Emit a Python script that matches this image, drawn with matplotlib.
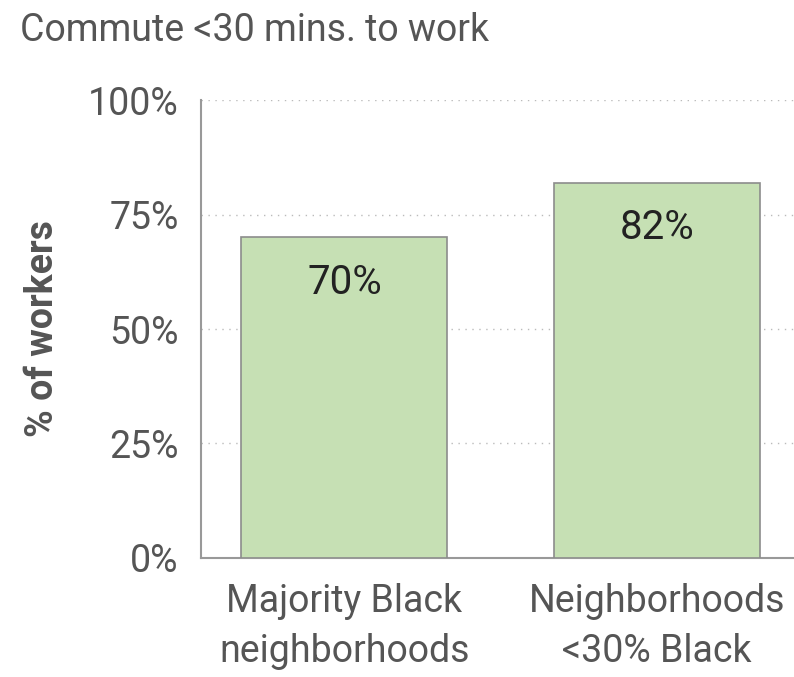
import matplotlib.pyplot as plt

categories = ['Majority Black\nneighborhoods', 'Neighborhoods\n<30% Black']
values = [70, 82]
ticks = [0, 25, 50, 75, 100]

plt.rcParams['font.family'] = ['Roboto', 'DejaVu Sans']
txt = '#555555'

fig = plt.figure(figsize=(7.94, 6.77), dpi=100)
ax = fig.add_axes([0.253, 0.176, 0.747, 0.676])

x = list(range(len(categories)))
ax.bar(x, values, width=0.66, color='#c6e0b4', edgecolor='#8c8c8c', linewidth=1.2, zorder=3)
for xi, v in zip(x, values):
    ax.text(xi, v - 5.5, f'{v}%', ha='center', va='top', fontsize=29, color='#222222', zorder=4)

ax.set_xlim(-0.46, 1.44)
ax.set_ylim(0, 100)
ax.set_yticks(ticks)
ax.set_yticklabels([f'{t}%' for t in ticks])
ax.set_xticks(x)
ax.set_xticklabels(categories, linespacing=1.45)
ax.tick_params(axis='both', length=0, labelsize=27, labelcolor=txt)
ax.tick_params(axis='y', pad=16)
ax.tick_params(axis='x', pad=18)
ax.yaxis.grid(True, linestyle=(0, (1, 4)), color='#bbbbbb', linewidth=1, zorder=0)
for s in ['top', 'right']:
    ax.spines[s].set_visible(False)
for s in ['left', 'bottom']:
    ax.spines[s].set_color('#999999')
    ax.spines[s].set_linewidth(1.5)
ax.set_ylabel('% of workers', fontsize=27, fontweight='bold', color=txt)
ax.yaxis.set_label_coords(-0.235, 0.5)

fig.text(0.025, 0.955, 'Commute <30 mins. to work', fontsize=27, color=txt, va='center', ha='left')

fig.savefig('out.png', dpi=100)
